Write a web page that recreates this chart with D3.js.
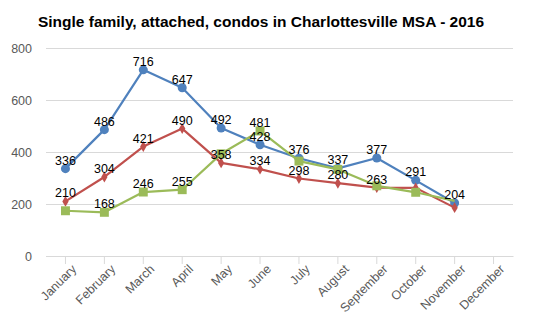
<!DOCTYPE html>
<html>
<head>
<meta charset="utf-8">
<script src="https://cdn.jsdelivr.net/npm/d3@7"></script>
<style>
  html, body { margin: 0; padding: 0; background: #fff; }
  svg { display: block; font-family: "Liberation Sans", Arial, sans-serif; }
</style>
</head>
<body>
<svg id="chart" width="550" height="330"></svg>
<script>
// Monthly sales, Charlottesville MSA, 2016
const months = ["January", "February", "March", "April", "May", "June",
  "July", "August", "September", "October", "November", "December"];
const singleFamily = [336, 486, 716, 647, 492, 428, 376, 337, 377, 291, 204, null];
const attached     = [210, 304, 421, 490, 358, 334, 298, 280, 263, 262, 186, null];
const condos       = [174, 168, 246, 255, 393, 481, 365, 333, 270, 245, 212, null];
// which points carry a value label
const singleFamilyLabeled = [1, 1, 1, 1, 1, 1, 1, 1, 1, 1, 1, 0];
const attachedLabeled     = [1, 1, 1, 1, 1, 1, 1, 1, 1, 0, 0, 0];
const condosLabeled       = [0, 1, 1, 1, 0, 1, 0, 0, 0, 0, 0, 0];
// which points show a marker
const singleFamilyMarked = [1, 1, 1, 1, 1, 1, 1, 1, 1, 1, 1, 0];
const attachedMarked     = [1, 1, 1, 1, 1, 1, 1, 1, 1, 1, 1, 0];
const condosMarked       = [1, 1, 1, 1, 1, 1, 1, 1, 1, 1, 0, 0];
const yTicks = [0, 200, 400, 600, 800];
const title = "Single family, attached, condos in Charlottesville MSA - 2016";

const series = [
  { values: singleFamily, labeled: singleFamilyLabeled, marked: singleFamilyMarked, color: "#4F81BD", marker: "circle" },
  { values: attached, labeled: attachedLabeled, marked: attachedMarked, color: "#C0504D", marker: "diamond" },
  { values: condos, labeled: condosLabeled, marked: condosMarked, color: "#9BBB59", marker: "square" }
];

const svg = d3.select("#chart");
const margin = { left: 46, right: 37, top: 48, bottom: 74 };
const W = 550, H = 330;

const x = d3.scaleBand().domain(months).range([margin.left, W - margin.right]);
const y = d3.scaleLinear().domain([0, 800]).range([H - margin.bottom, margin.top]);
const cx = m => x(m) + x.bandwidth() / 2;

// title
svg.append("text")
  .attr("x", 261).attr("y", 27)
  .attr("text-anchor", "middle")
  .attr("font-size", 15.5).attr("font-weight", "bold")
  .attr("fill", "#000")
  .text(title);

// horizontal gridlines + y labels
const yAxis = svg.append("g")
  .attr("transform", `translate(${margin.left},0)`)
  .call(d3.axisLeft(y).tickValues(yTicks).tickSize(-(W - margin.left - margin.right)).tickPadding(14));
yAxis.select(".domain").remove();
yAxis.selectAll(".tick line").attr("stroke", "#d9d9d9").attr("stroke-width", 1);
yAxis.selectAll(".tick text").attr("fill", "#595959").attr("font-size", 12.5)
  .attr("font-family", "Liberation Sans, Arial, sans-serif");

// x axis with rotated month labels
const xAxis = svg.append("g")
  .attr("transform", `translate(0,${H - margin.bottom})`)
  .call(d3.axisBottom(x).tickSize(8).tickSizeOuter(0));
xAxis.select(".domain").attr("stroke", "#d9d9d9");
xAxis.selectAll(".tick line").attr("stroke", "#d9d9d9");
xAxis.selectAll(".tick text")
  .attr("fill", "#595959").attr("font-size", 12.5)
  .attr("font-family", "Liberation Sans, Arial, sans-serif")
  .attr("text-anchor", "end")
  .attr("dy", 0)
  .attr("transform", "translate(4,6) rotate(-45)");

const line = d3.line()
  .defined(d => d != null)
  .x((d, i) => cx(months[i]))
  .y(d => y(d));

const sym = {
  circle: d3.symbol().type(d3.symbolCircle).size(64),
  diamond: d3.symbol().type(d3.symbolDiamond).size(34),
  square: d3.symbol().type(d3.symbolSquare).size(80)
};

series.forEach(s => {
  svg.append("path")
    .datum(s.values)
    .attr("fill", "none")
    .attr("stroke", s.color)
    .attr("stroke-width", 2.2)
    .attr("stroke-linejoin", "round")
    .attr("d", line);
  svg.append("g").selectAll("path")
    .data(s.values.map((v, i) => ({ v, i })).filter(d => d.v != null && s.marked[d.i]))
    .join("path")
    .attr("d", sym[s.marker])
    .attr("fill", s.color)
    .attr("transform", d => `translate(${cx(months[d.i])},${y(d.v)})`);
});

// value labels on top
series.forEach(s => {
  svg.append("g").selectAll("text")
    .data(s.values.map((v, i) => ({ v, i })).filter(d => d.v != null && s.labeled[d.i]))
    .join("text")
    .attr("x", d => cx(months[d.i]))
    .attr("y", d => y(d.v) - 4)
    .attr("text-anchor", "middle")
    .attr("font-size", 12.5)
    .attr("fill", "#000")
    .text(d => d.v);
});
</script>
</body>
</html>
